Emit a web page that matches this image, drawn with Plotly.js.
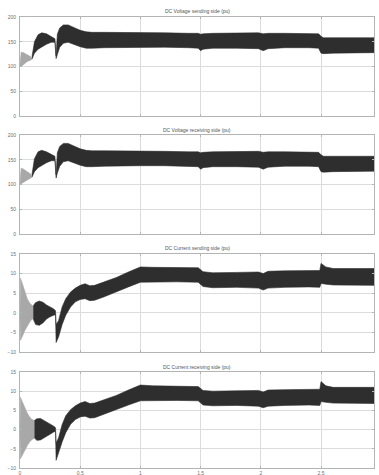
<!DOCTYPE html>
<html>
<head>
<meta charset="utf-8">
<script src="https://cdn.plot.ly/plotly-3.0.1.min.js"></script>
<style>
  html, body { margin: 0; padding: 0; background: #fff; }
  #chart { width: 379px; height: 475px; }
</style>
</head>
<body>
<div id="chart"></div>
<script>
// Time axis ticks (s)
const xTicks = [0, 0.5, 1, 1.5, 2, 2.5];
const xTickText = ['0', '0.5', '1', '1.5', '2', '2.5'];
const voltTicks = [0, 50, 100, 150, 200];
const currTicks = [-10, -5, 0, 5, 10, 15];

const titles = [
  'DC Voltage sending side (pu)',
  'DC Voltage receiving side (pu)',
  'DC Current sending side (pu)',
  'DC Current receiving side (pu)'
];

// DC voltage, sending side: start-up transient envelope
const tV1L  = [0, 0.01, 0.03, 0.06, 0.09, 0.10];
const upV1L = [104, 129, 128, 123, 119, 118];
const loV1L = [100, 100, 104, 110, 113, 115];
// DC voltage, sending side: ripple envelope
const tV1  = [0.10, 0.12, 0.15, 0.18, 0.22, 0.26, 0.29, 0.30, 0.31, 0.33, 0.36, 0.40, 0.45, 0.50, 0.55, 0.60, 0.70, 0.80, 1.0, 1.2, 1.4, 1.48, 1.50, 1.52, 1.6, 1.8, 1.98, 2.02, 2.06, 2.2, 2.4, 2.48, 2.50, 2.52, 2.6, 2.8, 2.94];
const upV1 = [120, 150, 164, 168, 166, 161, 156, 122, 165, 178, 184, 184, 178, 173, 170, 169, 169, 169, 168, 168, 167, 167, 165, 166, 167, 167, 168, 166, 167, 167, 166, 166, 161, 158, 158, 158, 158];
const loV1 = [115, 127, 135, 140, 145, 149, 149, 116, 124, 139, 147, 149, 145, 140, 137, 137, 138, 139, 139, 139, 138, 137, 132, 135, 137, 137, 136, 132, 136, 138, 138, 137, 127, 126, 127, 128, 128];

// DC voltage, receiving side
const tV2L  = [0, 0.01, 0.03, 0.06, 0.09, 0.10];
const upV2L = [104, 133, 131, 126, 121, 119];
const loV2L = [100, 100, 104, 109, 113, 115];
const tV2  = [0.10, 0.12, 0.15, 0.18, 0.22, 0.26, 0.29, 0.30, 0.31, 0.33, 0.36, 0.40, 0.45, 0.50, 0.55, 0.60, 0.70, 0.80, 1.0, 1.2, 1.4, 1.48, 1.50, 1.52, 1.6, 1.8, 1.98, 2.02, 2.06, 2.2, 2.4, 2.48, 2.50, 2.52, 2.6, 2.8, 2.94];
const upV2 = [121, 152, 166, 169, 166, 161, 157, 120, 164, 177, 183, 183, 177, 172, 169, 168, 168, 168, 167, 167, 166, 166, 164, 165, 166, 166, 167, 165, 166, 166, 166, 165, 160, 157, 157, 157, 157];
const loV2 = [115, 126, 134, 139, 144, 148, 148, 113, 123, 137, 146, 148, 144, 139, 136, 136, 137, 138, 138, 138, 137, 136, 131, 134, 136, 136, 135, 131, 135, 137, 137, 136, 126, 125, 126, 127, 127];

// DC current, sending side
const tI1L  = [0, 0.004, 0.02, 0.04, 0.06, 0.08, 0.10, 0.11];
const upI1L = [0, 8.8, 7.4, 5.2, 3.6, 2.5, 1.8, 1.6];
const loI1L = [-1, -7.0, -6.0, -4.5, -3.3, -2.4, -1.6, -1.5];
const tI1  = [0.11, 0.13, 0.16, 0.19, 0.22, 0.25, 0.28, 0.295, 0.30, 0.32, 0.35, 0.38, 0.42, 0.46, 0.50, 0.54, 0.58, 0.62, 0.70, 0.80, 0.90, 1.0, 1.1, 1.3, 1.48, 1.52, 1.6, 1.8, 1.98, 2.02, 2.06, 2.2, 2.4, 2.49, 2.50, 2.54, 2.6, 2.8, 2.94];
const upI1 = [1.8, 2.6, 3.0, 2.7, 2.0, 1.5, 1.0, 0.5, -3.0, -2.0, 1.5, 3.6, 5.3, 6.3, 7.0, 7.4, 6.9, 7.0, 7.8, 9.0, 10.4, 11.7, 11.6, 11.5, 11.5, 10.5, 10.2, 10.3, 10.4, 10.0, 10.6, 10.7, 10.8, 10.8, 12.6, 11.7, 11.3, 11.3, 11.3];
const loI1 = [-1.6, -3.0, -3.2, -2.6, -1.6, -1.0, -0.6, -0.5, -7.6, -6.2, -3.0, -0.6, 1.5, 2.8, 3.4, 3.6, 3.1, 3.2, 4.1, 5.3, 6.6, 7.8, 7.9, 7.9, 7.8, 6.7, 6.4, 6.5, 6.3, 5.8, 6.3, 6.5, 6.6, 6.5, 7.5, 7.3, 7.1, 7.0, 7.0];

// DC current, receiving side
const tI2L  = [0, 0.004, 0.02, 0.04, 0.06, 0.08, 0.10, 0.12];
const upI2L = [0, 8.4, 7.2, 5.6, 4.3, 3.3, 2.6, 2.4];
const loI2L = [-1, -7.6, -6.8, -5.4, -4.2, -3.2, -2.6, -2.2];
const tI2  = [0.12, 0.14, 0.17, 0.20, 0.23, 0.26, 0.28, 0.295, 0.30, 0.32, 0.35, 0.38, 0.42, 0.46, 0.50, 0.54, 0.58, 0.62, 0.70, 0.80, 0.90, 1.0, 1.1, 1.3, 1.48, 1.52, 1.6, 1.8, 1.98, 2.02, 2.06, 2.2, 2.4, 2.49, 2.50, 2.54, 2.6, 2.8, 2.94];
const upI2 = [2.4, 2.8, 2.9, 2.4, 1.8, 1.3, 0.9, 0.5, -3.4, -2.2, 1.3, 3.6, 5.2, 6.2, 6.9, 7.3, 6.8, 6.9, 7.7, 8.9, 10.3, 11.6, 11.4, 11.2, 11.2, 10.2, 10.0, 10.1, 10.2, 9.8, 10.3, 10.4, 10.5, 10.5, 12.5, 11.4, 11.0, 11.0, 11.0];
const loI2 = [-2.2, -2.8, -2.7, -2.2, -1.5, -1.0, -0.6, -0.5, -8.0, -6.5, -3.2, -0.8, 1.4, 2.6, 3.3, 3.5, 3.0, 3.1, 4.0, 5.2, 6.4, 7.5, 7.6, 7.6, 7.5, 6.4, 6.2, 6.3, 6.1, 5.7, 6.1, 6.3, 6.4, 6.3, 7.3, 7.1, 6.9, 6.8, 6.8];

// Closed polygon (upper edge forward, lower edge back) for a filled envelope
function band(t, up, lo, axis, color) {
  const x = t.concat(t.slice().reverse());
  const y = up.concat(lo.slice().reverse());
  return {
    type: 'scatter', mode: 'lines', x: x, y: y,
    xaxis: 'x' + axis, yaxis: 'y' + axis,
    fill: 'toself', fillcolor: color,
    line: { color: color, width: 0.6 },
    hoverinfo: 'skip', showlegend: false
  };
}

const light = '#a8a8a8';
const dark = '#2e2e2e';

const data = [
  band(tV1L, upV1L, loV1L, '', light), band(tV1, upV1, loV1, '', dark),
  band(tV2L, upV2L, loV2L, '2', light), band(tV2, upV2, loV2, '2', dark),
  band(tI1L, upI1L, loI1L, '3', light), band(tI1, upI1, loI1, '3', dark),
  band(tI2L, upI2L, loI2L, '4', light), band(tI2, upI2, loI2, '4', dark)
];

const tickFont = { family: 'Liberation Sans, Arial, sans-serif', size: 5, color: '#707070' };

function xAx(anchor, labels) {
  return {
    anchor: anchor, domain: [0, 1], range: [0, 2.94],
    tickmode: 'array', tickvals: xTicks, ticktext: xTickText,
    showticklabels: labels, tickfont: tickFont,
    showgrid: true, gridcolor: '#dcdcdc', gridwidth: 1,
    zeroline: false, showline: true, linecolor: '#b4b4b4', linewidth: 1, mirror: 'ticks',
    ticks: 'inside', ticklen: 2, tickcolor: '#b4b4b4', ticklabelstandoff: 0
  };
}
function yAx(anchor, domain, range, ticks) {
  return {
    anchor: anchor, domain: domain, range: range,
    tickmode: 'array', tickvals: ticks, tickfont: tickFont,
    showgrid: true, gridcolor: '#dcdcdc', gridwidth: 1,
    zeroline: false, showline: true, linecolor: '#b4b4b4', linewidth: 1, mirror: 'ticks',
    ticks: 'inside', ticklen: 2, tickcolor: '#b4b4b4', ticklabelstandoff: 2
  };
}

// pixel row -> paper fraction (plot area spans rows 0..468)
const H = 468;
const py = (row) => (H - row) / H;

const titleAnn = (text, row) => ({
  text: text, xref: 'paper', yref: 'paper', x: 0.5, y: py(row),
  xanchor: 'center', yanchor: 'middle', showarrow: false,
  font: { family: 'Liberation Sans, Arial, sans-serif', size: 5, color: '#555' }
});

const layout = {
  width: 379, height: 475,
  margin: { l: 20, r: 5, t: 0, b: 475 - H },
  paper_bgcolor: '#fff', plot_bgcolor: '#fff',
  showlegend: false,
  xaxis: xAx('y', false),
  xaxis2: xAx('y2', false),
  xaxis3: xAx('y3', false),
  xaxis4: xAx('y4', true),
  yaxis: yAx('x', [py(116), py(17)], [0, 200], voltTicks),
  yaxis2: yAx('x2', [py(234), py(135)], [0, 200], voltTicks),
  yaxis3: yAx('x3', [py(352), py(254)], [-10, 15], currTicks),
  yaxis4: yAx('x4', [py(468), py(372)], [-10, 15], currTicks),
  annotations: [
    titleAnn(titles[0], 11),
    titleAnn(titles[1], 130),
    titleAnn(titles[2], 248),
    titleAnn(titles[3], 367)
  ]
};

Plotly.newPlot('chart', data, layout, { staticPlot: true, displayModeBar: false });
</script>
</body>
</html>
